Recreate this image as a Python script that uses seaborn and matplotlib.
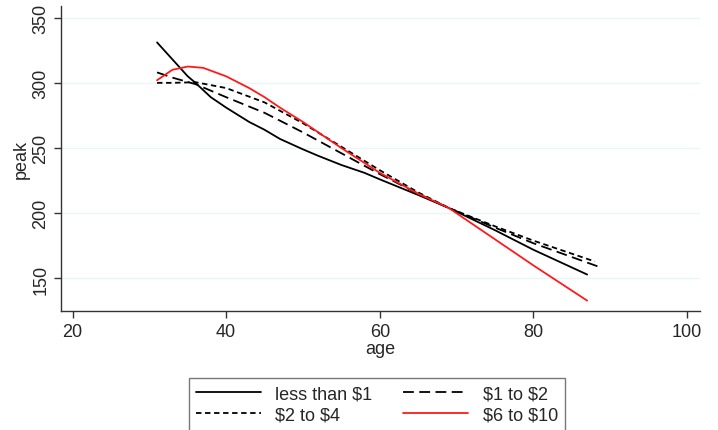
import numpy as np
import pandas as pd
import seaborn as sns
import matplotlib.pyplot as plt

# lowess-smoothed peak by age, one curve per income group
age_lt1 = [31, 33, 35, 36, 38, 40, 43, 45, 47, 50, 52, 55, 58, 60, 65, 69, 75, 80, 87]
peak_lt1 = [331, 318, 305, 300, 289, 281, 270, 264, 257, 249, 244, 237, 231, 226, 214, 204, 187, 172, 153]

age_1to2 = [31, 33, 36, 40, 45, 50, 55, 60, 65, 69, 75, 80, 88.5]
peak_1to2 = [308, 304, 299, 289, 277, 262, 246, 230, 215, 204, 189, 177, 159]

age_2to4 = [31, 33, 36, 40, 45, 50, 55, 60, 65, 69, 75, 80, 88]
peak_2to4 = [300, 300, 300.5, 296, 285, 269, 251, 233, 216, 204, 190, 179, 163]

age_6to10 = [31, 33, 35, 37, 40, 43, 45, 47, 50, 55, 60, 65, 69, 75, 80, 87]
peak_6to10 = [302, 310, 312.5, 311.5, 305, 296, 289, 281, 270, 250, 231, 215, 204, 180, 160, 133]

groups = ["less than $1", "$1 to $2", "$2 to $4", "$6 to $10"]

df = pd.concat([
    pd.DataFrame({"age": age_lt1, "peak": peak_lt1, "group": groups[0]}),
    pd.DataFrame({"age": age_1to2, "peak": peak_1to2, "group": groups[1]}),
    pd.DataFrame({"age": age_2to4, "peak": peak_2to4, "group": groups[2]}),
    pd.DataFrame({"age": age_6to10, "peak": peak_6to10, "group": groups[3]}),
], ignore_index=True)

sns.set_style("white")
plt.rcParams["font.family"] = ["Liberation Sans", "DejaVu Sans"]
plt.rcParams["text.parse_math"] = False

fig = plt.figure(figsize=(7.18, 4.31), dpi=100)
ax = fig.add_axes([0.085, 0.276, 0.89, 0.708])

palette = {groups[0]: "black", groups[1]: "black", groups[2]: "black", groups[3]: "#ff1a1a"}
dashes = {groups[0]: "", groups[1]: (6, 3), groups[2]: (3, 2), groups[3]: ""}

sns.lineplot(data=df, x="age", y="peak", hue="group", style="group",
             palette=palette, dashes=dashes, hue_order=groups, style_order=groups,
             sort=False, estimator=None, linewidth=1.3, ax=ax, legend=False)

ax.set_xlim(18.5, 101.7)
ax.set_ylim(125, 359)
ax.set_xticks([20, 40, 60, 80, 100])
ax.set_yticks([150, 200, 250, 300, 350])
ax.tick_params(axis="both", direction="out", length=5, width=1, labelsize=13,
               color="#333333", left=True, bottom=True)
for lbl in ax.get_yticklabels():
    lbl.set_rotation(90)
    lbl.set_va("center")
ax.grid(axis="y", color="#e8f6f6", linewidth=1)
ax.set_axisbelow(True)
for s in ["top", "right"]:
    ax.spines[s].set_visible(False)
for s in ["left", "bottom"]:
    ax.spines[s].set_color("#333333")
    ax.spines[s].set_linewidth(1)
ax.set_xlabel("age", fontsize=13, labelpad=0)
ax.set_ylabel("peak", fontsize=13, labelpad=2)

handles = []
for g in groups:
    h = plt.Line2D([], [], color=palette[g], linewidth=1.3)
    if dashes[g]:
        h.set_dashes(dashes[g])
    handles.append(h)
# legend fills column-wise, so reorder to read row-wise like the original
order = [0, 2, 1, 3]
leg = fig.legend([handles[i] for i in order], [groups[i] for i in order],
                 loc="upper center", bbox_to_anchor=(0.525, 0.142), ncol=2,
                 fontsize=13, frameon=True, fancybox=False, edgecolor="#555555",
                 handlelength=3.6, handletextpad=0.8, columnspacing=1.7,
                 labelspacing=0.25, borderpad=0.4)
leg.get_frame().set_linewidth(1)

fig.savefig("out.png", dpi=100)
